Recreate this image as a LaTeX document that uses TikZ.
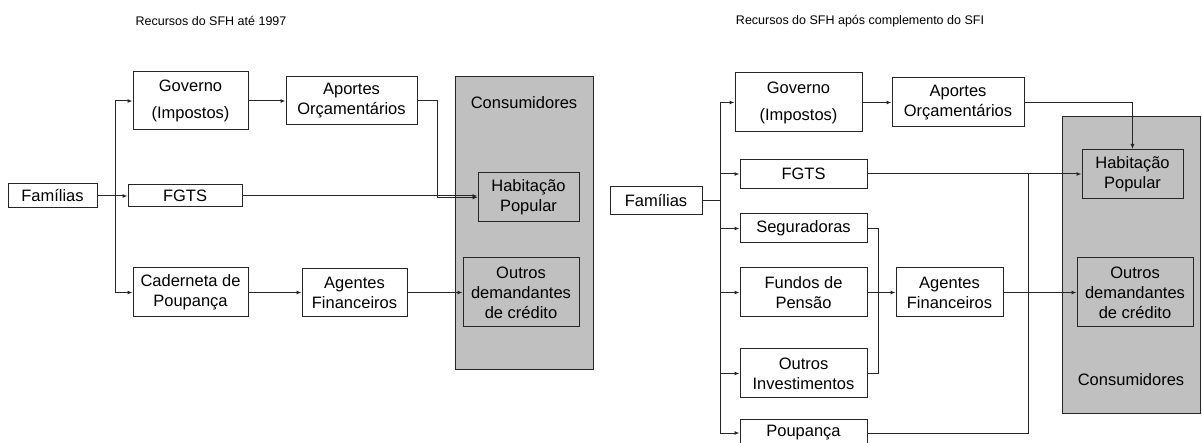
\documentclass[tikz,border=0pt]{standalone}
\usepackage{fontspec}
\setmainfont{Liberation Sans}
\usetikzlibrary{arrows.meta,positioning}
\definecolor{consgray}{RGB}{192,192,192}
\begin{document}
\begin{tikzpicture}[x=1pt,y=-1pt,
    every node/.style={font=\fontsize{16.5}{20}\selectfont},
    box/.style={draw=black!85,line width=1pt,fill=white,align=center,inner sep=0pt},
    graybox/.style={draw=black!85,line width=1pt,fill=consgray,inner sep=0pt},
    link/.style={draw=black!85,line width=1pt},
    arr/.style={link,-{Latex[length=5pt,width=4pt]}},
    title/.style={font=\fontsize{12.5}{15}\selectfont}]
  \useasboundingbox (0,0) rectangle (1202,443);
  % Recursos do SFH ate 1997
  \node[title] (t1) at (211,21) {Recursos do SFH até 1997};
  \node[graybox,minimum width=138pt,minimum height=293pt] (cons1) at (524,223.5) {};
  \node (lcons1) at (524,103) {Consumidores};
  \node[box,minimum width=89pt,minimum height=24pt] (fam1) at (52.5,196) {Famílias};
  \node[box,minimum width=115pt,minimum height=58pt] (gov1) at (190.5,101) {Governo\\[7pt](Impostos)};
  \node[box,minimum width=114pt,minimum height=22pt] (fgts1) at (185,196) {FGTS};
  \node[box,minimum width=115pt,minimum height=49pt] (cad1) at (190.5,292.5) {Caderneta de\\Poupança};
  \node[box,minimum width=131pt,minimum height=48pt] (apo1) at (351.5,101) {Aportes\\Orçamentários};
  \node[box,minimum width=105pt,minimum height=48pt] (age1) at (354.5,292.5) {Agentes\\Financeiros};
  \node[box,fill=consgray,minimum width=101pt,minimum height=49pt] (hab1) at (528.5,197.5) {Habitação\\Popular};
  \node[box,fill=consgray,minimum width=116pt,minimum height=69pt] (out1) at (521,292.5) {Outros\\demandantes\\de crédito};
  \coordinate (j1) at (115,196);
  \draw[link] (fam1.east) -- (j1);
  \draw[link] (115,101) -- (115,292.5);
  \draw[arr] (115,101) -- (gov1.west);
  \draw[arr] (j1) -- (fgts1.west);
  \draw[arr] (115,292.5) -- (cad1.west);
  \draw[arr] (gov1.east) -- (apo1.west);
  \draw[arr] (apo1.east) -| (437,197.5) -- (hab1.west);
  \draw[arr] (fgts1.east) -- (fgts1.east -| hab1.west);
  \draw[arr] (cad1.east) -- (age1.west);
  \draw[arr] (age1.east) -- (out1.west);
  % Recursos do SFH apos complemento do SFI
  \node[title] (t2) at (860,21) {Recursos do SFH após complemento do SFI};
  \node[graybox,minimum width=138pt,minimum height=296pt] (cons2) at (1131,265) {};
  \node (lcons2) at (1131,380) {Consumidores};
  \node[box,minimum width=92pt,minimum height=28pt] (fam2) at (656,201) {Famílias};
  \node[box,minimum width=127pt,minimum height=59pt] (gov2) at (798.5,102.5) {Governo\\[7pt](Impostos)};
  \node[box,minimum width=127pt,minimum height=29pt] (fgts2) at (803.5,174) {FGTS};
  \node[box,minimum width=127pt,minimum height=29pt] (seg2) at (803.5,228.5) {Seguradoras};
  \node[box,minimum width=127pt,minimum height=49pt] (fun2) at (803.5,292.5) {Fundos de\\Pensão};
  \node[box,minimum width=127pt,minimum height=49pt] (oin2) at (803.5,373.5) {Outros\\Investimentos};
  \node[box,minimum width=127pt,minimum height=28pt] (pou2) at (803.5,433) {Poupança};
  \node[box,minimum width=132pt,minimum height=49pt] (apo2) at (958,102.5) {Aportes\\Orçamentários};
  \node[box,minimum width=107pt,minimum height=49pt] (age2) at (949.5,292.5) {Agentes\\Financeiros};
  \node[box,fill=consgray,minimum width=101pt,minimum height=49pt] (hab2) at (1132.5,174) {Habitação\\Popular};
  \node[box,fill=consgray,minimum width=116pt,minimum height=69pt] (out2) at (1135,292.5) {Outros\\demandantes\\de crédito};
  \coordinate (j2) at (720,201);
  \draw[link] (fam2.east) -- (j2);
  \draw[link] (720,102.5) -- (720,433);
  \foreach \n in {gov2,fgts2,seg2,fun2,oin2,pou2}
    \draw[arr] (\n.west -| j2) -- (\n.west);
  \draw[arr] (gov2.east) -- (apo2.west);
  \draw[arr] (apo2.east) -| (hab2.north);
  \draw[arr] (fgts2.east) -- (hab2.west);
  \draw[link] (pou2.east) -| (1028,174);
  \draw[link] (seg2.east) -| (878,373.5) -- (oin2.east);
  \draw[arr] (fun2.east) -- (age2.west);
  \draw[arr] (age2.east) -- (out2.west);
\end{tikzpicture}
\end{document}
